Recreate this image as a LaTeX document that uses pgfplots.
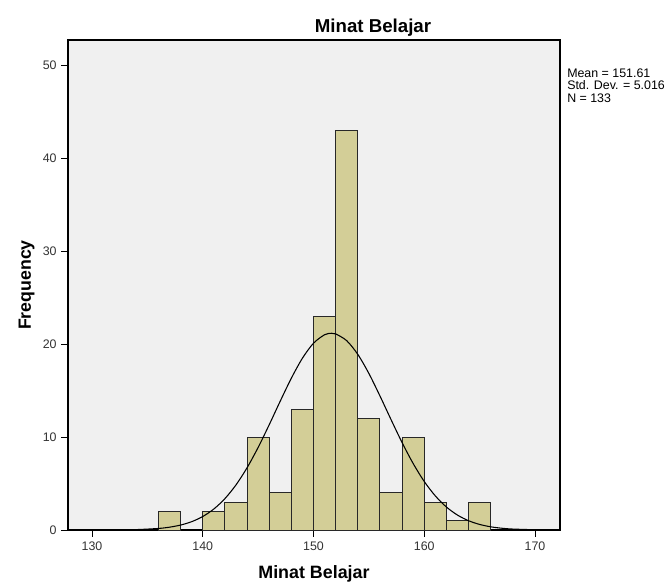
\documentclass[border=0pt]{standalone}
\usepackage{pgfplots}
\pgfplotsset{compat=1.18}
\usepackage{fontspec}
\setmainfont{Liberation Sans}
\definecolor{plotbg}{RGB}{240,240,240}
\definecolor{barfill}{RGB}{211,206,151}
\definecolor{baredge}{RGB}{40,40,40}
\begin{document}
\begin{tikzpicture}[x=1pt,y=1pt]
\begin{axis}[
  at={(0,0)}, anchor=south west,
  scale only axis,
  width=369pt, height=367.5pt,
  xmin=127.83, xmax=172.26,
  ymin=0, ymax=52.7,
  xtick={130,140,...,170},
  ytick={0,10,...,50},
  tick align=outside,
  xtick pos=bottom, ytick pos=left,
  major tick length=5pt,
  tick style={black, line width=0.7pt},
  axis line style={line width=0.8pt, black},
  axis background/.style={fill=plotbg},
  ticklabel style={font=\fontsize{9.3}{10}\selectfont, text=black!80},
  /pgf/number format/assume math mode=true,
  clip=false,
]
\addplot[ybar, bar width=2, fill=barfill, draw=baredge, line width=0.75pt]
  coordinates {
  (137,2) (141,2) (143,3) (145,10) (147,4) (149,13) (151,23)
  (153,43) (155,12) (157,4) (159,10) (161,3) (163,1) (165,3)};
\addplot[black, line width=0.8pt, smooth, no marks] coordinates {
  (129,0.001) (130,0.002) (132,0.010) (134,0.045) (136,0.167) (137,0.304)
  (138,0.533) (139,0.897) (140,1.452) (141,2.259) (142,3.376) (143,4.849)
  (144,6.694) (145,8.879) (146,11.32) (147,13.87) (148,16.33) (149,18.48)
  (150,20.09) (151,21.00) (151.61,21.16) (152,21.09) (153,20.36) (154,18.89)
  (155,16.84) (156,14.42) (157,11.88) (158,9.40) (159,7.15) (160,5.22)
  (161,3.67) (162,2.475) (163,1.606) (164,1.001) (165,0.600) (166,0.345)
  (167,0.191) (168,0.102) (170,0.026)};
% title, axis labels
\node[anchor=base, font=\fontsize{14}{16}\selectfont\bfseries]
  at ([yshift=6pt]rel axis cs:0.62,1) {Minat Belajar};
\node[anchor=base, font=\fontsize{13.4}{16}\selectfont\bfseries]
  at ([yshift=-36pt]rel axis cs:0.5,0) {Minat Belajar};
\node[anchor=base, rotate=90, font=\fontsize{13.3}{16}\selectfont\bfseries]
  at ([xshift=-27.75pt]rel axis cs:0,0.5) {Frequency};
% stats box
\node[anchor=north west, align=left, inner sep=0pt,
      font=\fontsize{9.3}{9.2}\selectfont]
  at ([xshift=5.25pt,yshift=-21.5pt]rel axis cs:1,1)
  {Mean = 151.61\\Std. Dev. = 5.016\\N = 133};
\end{axis}
\pgfresetboundingbox
\path[use as bounding box] (-51pt,-39.75pt) rectangle (452.25pt,397.5pt);
\end{tikzpicture}
\end{document}
